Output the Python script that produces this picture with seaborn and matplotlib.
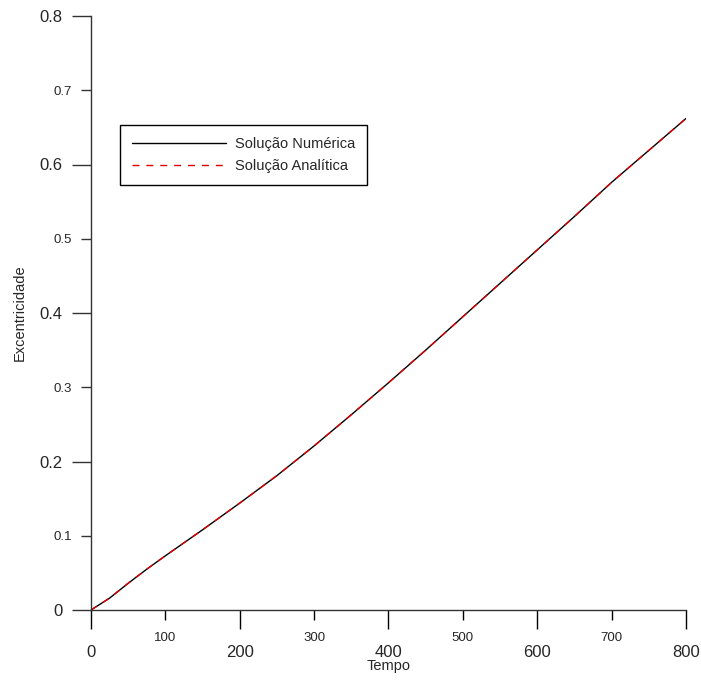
import matplotlib
matplotlib.use("Agg")
import matplotlib.pyplot as plt
import seaborn as sns
import pandas as pd

# Eccentricity over time: numerical integration vs. analytical solution
tempo = [0, 25, 50, 75, 100, 150, 200, 250, 300, 350, 400, 450, 500,
         550, 600, 650, 700, 750, 800]
ecc_numerica = [0.0, 0.016, 0.036, 0.055, 0.073, 0.108, 0.144, 0.181, 0.221,
                0.263, 0.306, 0.350, 0.395, 0.440, 0.485, 0.530, 0.576,
                0.619, 0.662]
ecc_analitica = [0.0, 0.016, 0.036, 0.055, 0.073, 0.108, 0.144, 0.181, 0.221,
                 0.263, 0.306, 0.350, 0.395, 0.440, 0.485, 0.530, 0.576,
                 0.619, 0.662]
serie_num = "Solução Numérica"
serie_ana = "Solução Analítica"

x_major = [0, 200, 400, 600, 800]
x_minor = [100, 300, 500, 700]
y_major = [0, 0.2, 0.4, 0.6, 0.8]
y_minor = [0.1, 0.3, 0.5, 0.7]

sns.set_style("ticks")
plt.rcParams["font.family"] = ["Liberation Sans", "DejaVu Sans"]

df = pd.concat([
    pd.DataFrame({"Tempo": tempo, "Excentricidade": ecc_numerica, "Série": serie_num}),
    pd.DataFrame({"Tempo": tempo, "Excentricidade": ecc_analitica, "Série": serie_ana}),
])

fig = plt.figure(figsize=(7.01, 6.82), dpi=100)
ax = fig.add_axes([91 / 701, 1 - 610 / 682, 595 / 701, 594 / 682])

sns.lineplot(data=df, x="Tempo", y="Excentricidade", hue="Série", style="Série",
             palette={serie_num: "black", serie_ana: "#e00000"},
             dashes={serie_num: "", serie_ana: (5, 5)},
             linewidth=1.0, ax=ax, legend=True)

ax.set_xlim(0, 800)
ax.set_ylim(0, 0.8)

for side in ("top", "right"):
    ax.spines[side].set_visible(False)
for side in ("left", "bottom"):
    ax.spines[side].set_color("#333333")
    ax.spines[side].set_linewidth(1.0)

ax.set_xticks(x_major)
ax.set_xticks(x_minor, minor=True)
ax.set_xticklabels([str(v) for v in x_major])
ax.set_xticklabels([str(v) for v in x_minor], minor=True)
ax.set_yticks(y_major)
ax.set_yticks(y_minor, minor=True)
ax.set_yticklabels(["0" if v == 0 else f"{v:.1f}" for v in y_major])
ax.set_yticklabels([f"{v:.1f}" for v in y_minor], minor=True)

ax.tick_params(axis="x", which="major", direction="out", length=14, width=1,
               color="black", labelsize=12, pad=11)
ax.tick_params(axis="x", which="minor", direction="out", length=7, width=1,
               color="black", labelsize=9.5, pad=8.5)
ax.tick_params(axis="y", which="major", direction="out", length=14, width=1,
               color="#333333", labelsize=12, pad=6.5)
ax.tick_params(axis="y", which="minor", direction="out", length=7, width=1,
               color="#333333", labelsize=9.5, pad=7)

ax.set_xlabel("Tempo", fontsize=10.5, labelpad=-0.5)
ax.set_ylabel("Excentricidade", fontsize=10.5, labelpad=9)

leg = ax.legend(loc="upper left", bbox_to_anchor=(29 / 595, 485 / 594),
                borderaxespad=0, fontsize=10.5, frameon=True, fancybox=False,
                handlelength=6.5, handletextpad=0.6, labelspacing=0.57,
                borderpad=0.8)
leg.get_frame().set_edgecolor("black")
leg.get_frame().set_linewidth(1.0)
leg.get_frame().set_alpha(1)

fig.savefig("out.png", dpi=100)
